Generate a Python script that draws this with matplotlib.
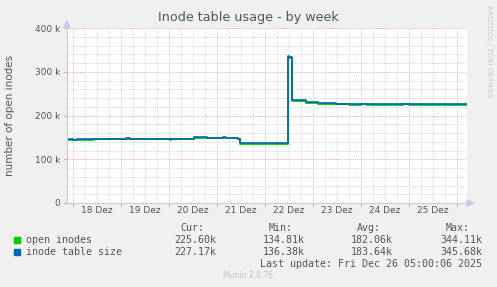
import numpy as np
import matplotlib.pyplot as plt
from matplotlib.ticker import MultipleLocator, FixedLocator, FuncFormatter

# hours since 18 Dez 00:00, graph spans 17 Dez 21:00 .. 26 Dez 05:00
blue_t = [-3, 0, 2, 26.5, 28.5, 60.5, 67, 75, 76.5, 82.5, 83.5, 107.5, 108, 109.5,
          116.5, 122.5, 131.5, 192, 197]
blue_v = [145.6, 144.5, 145.6, 148, 145.6, 150, 148, 150, 148, 147, 136.4, 336, 333, 235,
          231.5, 229, 226.8, 226.3, 227.17]

green_t = [-3, 2, 10, 48.5, 49, 57, 60.5, 67, 75, 76.5, 82.5, 83.5, 98.5, 107.5, 108,
           109.5, 116.5, 122.5, 131.5, 138, 144, 147, 151, 165, 168, 172, 192, 197]
green_v = [144.2, 143.5, 145.3, 144.5, 145.3, 147, 149.3, 147.5, 149, 147.5, 146, 134.8,
           135.8, 334, 331, 234, 229.5, 227.2, 225.8, 224.3, 226.5, 224.5, 224.2, 226.5,
           224.4, 224.6, 225.0, 225.6]

day_labels = ['18 Dez', '19 Dez', '20 Dez', '21 Dez', '22 Dez', '23 Dez', '24 Dez', '25 Dez']

legend_names = ['open inodes', 'inode table size']
legend_colors = ['#00CC00', '#0066B3']
cur = ['225.60k', '227.17k']
vmin = ['134.81k', '136.38k']
avg = ['182.06k', '183.64k']
vmax = ['344.11k', '345.68k']

W, H = 497, 287
fig = plt.figure(figsize=(W / 100, H / 100), dpi=100, facecolor='#F0F0F0')
ax = fig.add_axes([67 / W, (H - 203) / H, 400 / W, 175 / H])
ax.set_facecolor('white')

ax.step(green_t, green_v, where='post', color=legend_colors[0], lw=1.3)
ax.step(blue_t, blue_v, where='post', color=legend_colors[1], lw=1.2)

ax.set_xlim(-3, 197)
ax.set_ylim(0, 400)

# grid
ax.xaxis.set_minor_locator(MultipleLocator(6))
ax.xaxis.set_major_locator(FixedLocator([24 * i for i in range(9)]))
ax.yaxis.set_major_locator(MultipleLocator(100))
ax.yaxis.set_minor_locator(MultipleLocator(20))
ax.grid(which='minor', color='#c4c4c4', ls=(0, (1, 1.5)), lw=0.6)
ax.grid(which='major', color='#f09090', ls=(0, (1, 1.5)), lw=0.6)
ax.set_axisbelow(True)

ax.set_xticklabels([])
for i, lab in enumerate(day_labels):
    ax.text(24 * i + 12, -6, lab, ha='center', va='top', fontsize=6.5, color='#555555',
            transform=ax.transData, clip_on=False)

ax.yaxis.set_major_formatter(FuncFormatter(lambda v, p: '0' if v == 0 else '%d k' % v))
ax.tick_params(axis='y', which='major', length=2, color='#f09090', labelsize=6.5,
               labelcolor='#555555', pad=3)
ax.tick_params(axis='x', which='major', length=2, color='#f09090')
ax.tick_params(which='minor', length=0)

for s in ['top', 'right']:
    ax.spines[s].set_visible(False)
for s in ['left', 'bottom']:
    ax.spines[s].set_color('#c8c8f0')
    ax.spines[s].set_linewidth(0.8)

# axis arrows
fig.patches.append(plt.Polygon([[67 / W - 3 / W, 1 - 28 / H], [67 / W + 3 / W, 1 - 28 / H],
                                [67 / W, 1 - 21 / H]], closed=True, color='#c8c8f0',
                               transform=fig.transFigure))
fig.patches.append(plt.Polygon([[467 / W, 1 - 200 / H], [467 / W, 1 - 206 / H],
                                [474 / W, 1 - 203 / H]], closed=True, color='#c8c8f0',
                               transform=fig.transFigure))

fig.text(248 / W, 1 - 18 / H, 'Inode table usage - by week', ha='center', va='center',
         fontsize=9.2, color='#555555')
fig.text(10 / W, 1 - 115 / H, 'number of open inodes', rotation=90, ha='center',
         va='center', fontsize=7.5, color='#555555')
fig.text(489 / W, 1 - 5 / H, 'RRDTOOL / TOBI OETIKER', rotation=270, ha='center',
         va='top', fontsize=5.2, color='#c8c8c8')

# legend
mono = dict(family='DejaVu Sans Mono', fontsize=7.2, color='#555555')
def ftext(x, y, s, ha='left'):
    fig.text(x / W, 1 - y / H, s, ha=ha, va='center', **mono)

ftext(204, 228, 'Cur:', 'right')
ftext(293, 228, 'Min:', 'right')
ftext(381, 228, 'Avg:', 'right')
ftext(470, 228, 'Max:', 'right')
for i, name in enumerate(legend_names):
    y = 240 + 12 * i
    fig.patches.append(plt.Rectangle(((14) / W, 1 - (y + 3) / H), 6 / W, 6 / H,
                                     color=legend_colors[i], transform=fig.transFigure))
    ftext(26, y, name)
    ftext(216, y, cur[i], 'right')
    ftext(305, y, vmin[i], 'right')
    ftext(393, y, avg[i], 'right')
    ftext(482, y, vmax[i], 'right')
ftext(482, 264, 'Last update: Fri Dec 26 05:00:06 2025', 'right')
fig.text(248 / W, 1 - 276 / H, 'Munin 2.0.76', ha='center', va='center', fontsize=5.5,
         color='#c0c0c0')

fig.savefig('out.png', dpi=100, facecolor=fig.get_facecolor())
